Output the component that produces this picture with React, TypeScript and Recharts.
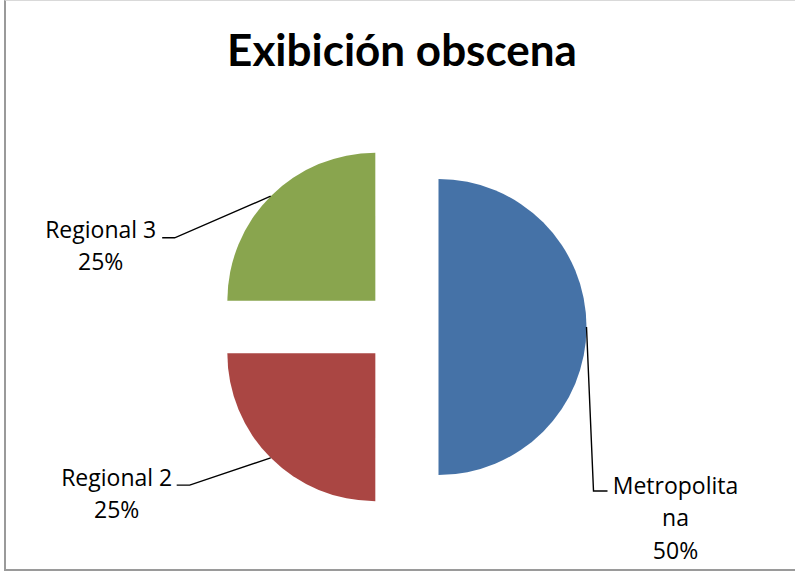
import { PieChart, Pie, Sector } from "recharts";

const categories = ["Metropolitana", "Regional 2", "Regional 3"];
const values = [50, 25, 25];
const title = "Exibición obscena";

const COLORS = ["#4572A7", "#AA4643", "#89A54E"];
const EXPLODE = 37;
const RADIAN = Math.PI / 180;

// leader lines, offsets from the slice's outer arc midpoint
const LEADERS = [
  { elbow: [7, 164], end: [21, 164], text: [89, 166.5], wrap: 11 },
  { elbow: [-81, 27.3], end: [-94, 27.3], text: [-154, 28], wrap: 20 },
  { elbow: [-96, 41.6], end: [-108.5, 41.6], text: [-170, 41.6], wrap: 20 },
];

const data = categories.map((name, i) => ({ name, value: values[i] }));

function chunk(s: string, n: number) {
  const out: string[] = [];
  for (let i = 0; i < s.length; i += n) out.push(s.slice(i, i + n));
  return out;
}

function renderSlice(props: any) {
  const { cx, cy, midAngle, innerRadius, outerRadius, startAngle, endAngle, index, name, percent } = props;
  const cos = Math.cos(-midAngle * RADIAN);
  const sin = Math.sin(-midAngle * RADIAN);
  const ox = cx + EXPLODE * cos;
  const oy = cy + EXPLODE * sin;
  const ax = ox + outerRadius * cos;
  const ay = oy + outerRadius * sin;
  const L = LEADERS[index];
  const lines = [...chunk(String(name), L.wrap), `${Math.round(percent * 100)}%`];
  const tx = ax + L.text[0];
  return (
    <g>
      <Sector
        cx={ox}
        cy={oy}
        innerRadius={innerRadius}
        outerRadius={outerRadius}
        startAngle={startAngle}
        endAngle={endAngle}
        fill={COLORS[index]}
        stroke="none"
      />
      <polyline
        points={`${ax},${ay} ${ax + L.elbow[0]},${ay + L.elbow[1]} ${ax + L.end[0]},${ay + L.end[1]}`}
        fill="none"
        stroke="#000"
        strokeWidth={1.4}
      />
      <text
        x={tx}
        y={ay + L.text[1]}
        textAnchor="middle"
        fontFamily="'Open Sans', sans-serif"
        fontSize={23}
        fill="#000"
      >
        {lines.map((t, i) => (
          <tspan key={i} x={tx} dy={i === 0 ? 0 : 32.5}>
            {t}
          </tspan>
        ))}
      </text>
    </g>
  );
}

export default function App() {
  return (
    <div style={{ position: "absolute", left: 0, top: 0, width: 795, height: 575, background: "#fff", overflow: "hidden" }}>
      <div
        style={{
          position: "absolute",
          left: 4,
          top: 0,
          width: 810,
          height: 571,
          borderLeft: "2px solid #9a9a9a",
          borderBottom: "2px solid #9a9a9a",
          borderTop: "1px solid #d9d9d9",
          boxSizing: "border-box",
        }}
      />
      <div style={{ position: "absolute", left: 0, top: 0 }}>
        <PieChart width={795} height={575} margin={{ top: 0, right: 0, bottom: 0, left: 0 }}>
          <text x={402} y={66} textAnchor="middle" fontFamily="Lato, sans-serif" fontWeight="bold" fontSize={44} fill="#000">
            {title}
          </text>
          <Pie
            data={data}
            dataKey="value"
            nameKey="name"
            cx={401.5}
            cy={327}
            outerRadius={148}
            startAngle={90}
            endAngle={-270}
            fill="none"
            stroke="none"
            label={renderSlice}
            labelLine={false}
            isAnimationActive={false}
          />
        </PieChart>
      </div>
    </div>
  );
}
